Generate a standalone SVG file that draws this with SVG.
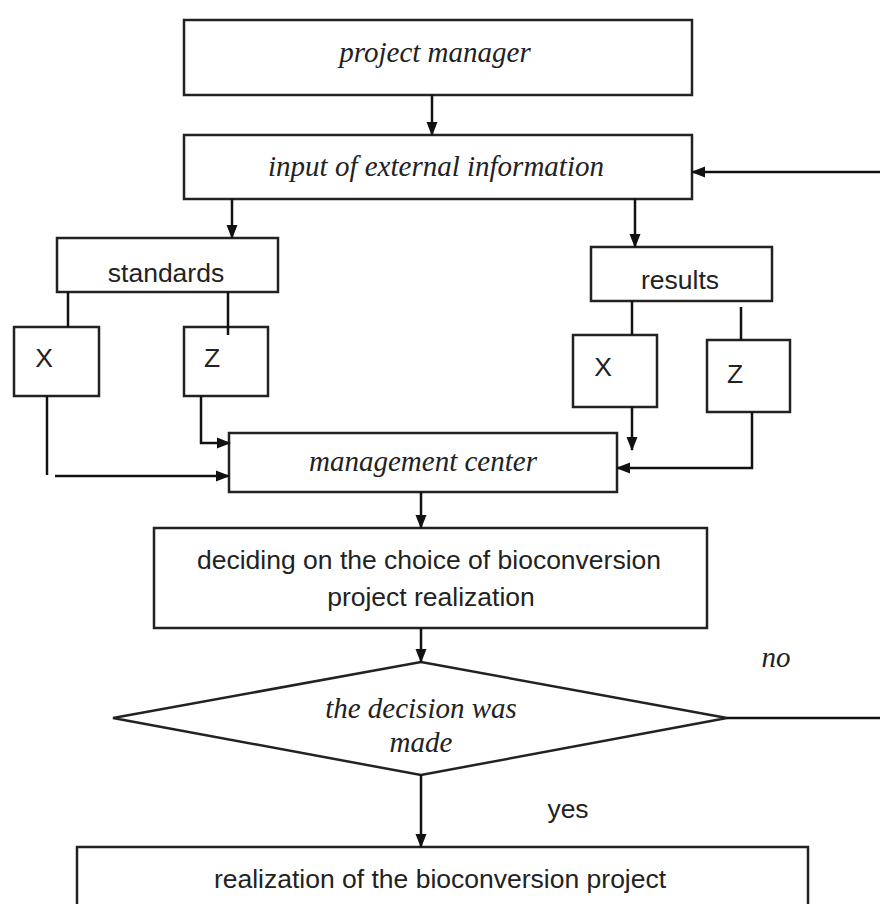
<svg xmlns="http://www.w3.org/2000/svg" width="880" height="904" viewBox="0 0 880 904">
<defs>
<marker id="ah" markerWidth="14" markerHeight="14" refX="13" refY="7" orient="auto" markerUnits="userSpaceOnUse">
<path d="M0,1.5 L14,7 L0,12.5 Z" fill="#111"/>
</marker>
<style>
rect, polygon { fill: #fff; stroke: #222; stroke-width: 2.5; }
.c line, .c polyline { stroke: #111; stroke-width: 2.5; fill: none; }
.it { font-family: "Liberation Serif", serif; font-style: italic; font-size: 29px; fill: #222; text-anchor: middle; }
.sn { font-family: "Liberation Sans", sans-serif; font-size: 26.5px; fill: #222; text-anchor: middle; }
</style>
</defs>
<rect x="0" y="0" width="880" height="904" style="fill:#fff;stroke:none"/>
<g id="pm"><rect x="184" y="20" width="508" height="75"/><text class="it" x="435" y="62">project manager</text></g>
<g id="input"><rect x="184" y="135" width="508" height="64"/><text class="it" x="436" y="176">input of external information</text></g>
<g id="standards"><rect x="57" y="238" width="221" height="54"/><text class="sn" x="166" y="282">standards</text></g>
<g id="sx"><rect x="14" y="327" width="85" height="69"/><text class="sn" x="44" y="367">X</text></g>
<g id="sz"><rect x="184" y="327" width="84" height="69"/><text class="sn" x="212" y="367">Z</text></g>
<g id="results"><rect x="591" y="247" width="181" height="54"/><text class="sn" x="680" y="289">results</text></g>
<g id="rx"><rect x="573" y="335" width="84" height="72"/><text class="sn" x="603" y="376">X</text></g>
<g id="rz"><rect x="707" y="340" width="83" height="72"/><text class="sn" x="735" y="383">Z</text></g>
<g id="mc"><rect x="229" y="433" width="388" height="59"/><text class="it" x="423" y="471">management center</text></g>
<g id="decide"><rect x="154" y="528" width="553" height="100"/><text class="sn" x="429" y="569">deciding on the choice of bioconversion</text><text class="sn" x="431" y="606">project realization</text></g>
<g id="dec"><polygon points="421,662 727,718 421,775 113,718"/><text class="it" x="421" y="718">the decision was</text><text class="it" x="421" y="752">made</text></g>
<g id="real"><rect x="77" y="847" width="731" height="80"/><text class="sn" x="440" y="888">realization of the bioconversion project</text></g>
<g id="labels"><text class="it" x="776" y="667">no</text><text class="sn" x="568" y="818">yes</text></g>
<g class="c" id="connectors">
<line x1="432" y1="95" x2="432" y2="135" marker-end="url(#ah)"/>
<line x1="880" y1="172" x2="692" y2="172" marker-end="url(#ah)"/>
<line x1="232" y1="199" x2="232" y2="238" marker-end="url(#ah)"/>
<line x1="635" y1="199" x2="635" y2="247" marker-end="url(#ah)"/>
<line x1="68" y1="292" x2="68" y2="327"/>
<line x1="228" y1="292" x2="228" y2="335"/>
<line x1="47" y1="396" x2="47" y2="475"/>
<line x1="55" y1="476" x2="229" y2="476" marker-end="url(#ah)"/>
<polyline points="201,396 201,443 230,443" marker-end="url(#ah)"/>
<line x1="632" y1="301" x2="632" y2="335"/>
<line x1="741" y1="307" x2="741" y2="340"/>
<line x1="632" y1="407" x2="632" y2="450" marker-end="url(#ah)"/>
<polyline points="752,412 752,468 617,468" marker-end="url(#ah)"/>
<line x1="421" y1="492" x2="421" y2="528" marker-end="url(#ah)"/>
<line x1="421" y1="628" x2="421" y2="662" marker-end="url(#ah)"/>
<line x1="727" y1="718" x2="880" y2="718"/>
<line x1="421" y1="775" x2="421" y2="847" marker-end="url(#ah)"/>
</g>
</svg>
